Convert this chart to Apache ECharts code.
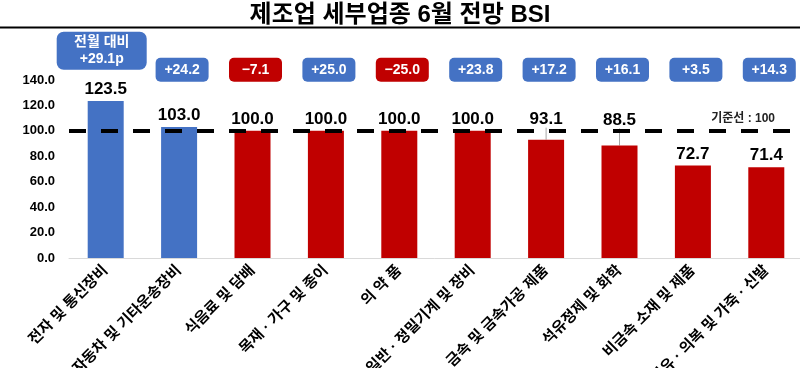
<!DOCTYPE html>
<html><head><meta charset="utf-8">
<script src="https://cdn.jsdelivr.net/npm/echarts@6/dist/echarts.min.js"></script>
<style>html,body{margin:0;padding:0;background:#fff}#c{width:800px;height:368px}</style>
</head><body><div id="c"></div>
<script>
const categories = ['전자 및 통신장비','자동차 및 기타운송장비','식음료 및 담배','목재 · 가구 및 종이','의 약 품','일반 · 정밀기계 및 장비','금속 및 금속가공 제품','석유정제 및 화학','비금속 소재 및 제품','섬유 · 의복 및 가죽 · 신발'];
const bsiValues = [123.5, 103.0, 100.0, 100.0, 100.0, 100.0, 93.1, 88.5, 72.7, 71.4];
const monthChange = [29.1, 24.2, -7.1, 25.0, -25.0, 23.8, 17.2, 16.1, 3.5, 14.3];
const barColors = ['#4472C4','#4472C4','#C00000','#C00000','#C00000','#C00000','#C00000','#C00000','#C00000','#C00000'];
const baseline = 100;
const yTicks = [0, 20, 40, 60, 80, 100, 120, 140];
const boxLevel = 148;
const firstBoxLevel = 163;

const FONT = '"Liberation Sans", "Noto Sans CJK KR", sans-serif';
const BLUE = '#4472C4', RED = '#C00000';

const boxData = monthChange.map((d, i) => {
  const color = d >= 0 ? BLUE : RED;
  const txt = (d >= 0 ? '+' : '\u2212') + Math.abs(d).toFixed(1);
  if (i === 0) {
    return {
      value: [categories[i], firstBoxLevel],
      label: { formatter: '전월 대비\n' + txt + 'p', backgroundColor: color, width: 90, height: 38, lineHeight: 17, borderRadius: 7, offset: [-4, 0] }
    };
  }
  return { value: [categories[i], boxLevel], label: { formatter: txt, backgroundColor: color, width: 53, height: 24, lineHeight: 24, borderRadius: 5, offset: [3, 0] } };
});

const chart = echarts.init(document.getElementById('c'), null, { renderer: 'canvas' });
chart.setOption({
  animation: false,
  backgroundColor: '#fff',
  title: {
    text: '제조업 세부업종 6월 전망 BSI',
    left: 'center', top: -2,
    textStyle: { fontFamily: FONT, fontSize: 24, fontWeight: 'bold', color: '#000' }
  },
  graphic: [{
    type: 'line', shape: { x1: 0, y1: 27.5, x2: 800, y2: 27.5 },
    style: { stroke: '#000', lineWidth: 2 }
  }],
  grid: { left: 69, width: 734, top: 80, bottom: 110, containLabel: false, outerBoundsMode: 'none' },
  xAxis: {
    type: 'category', data: categories,
    axisLine: { lineStyle: { color: '#d9d9d9', width: 1 } },
    axisTick: { show: false },
    axisLabel: { rotate: 45, margin: 10, interval: 0, color: '#000', fontFamily: FONT, fontWeight: 'bold', fontSize: 15 }
  },
  yAxis: {
    type: 'value', min: yTicks[0], max: yTicks[yTicks.length - 1], interval: 20,
    splitLine: { show: false }, axisLine: { show: false }, axisTick: { show: false },
    axisLabel: { margin: 14, color: '#000', fontFamily: FONT, fontWeight: 'bold', fontSize: 13, formatter: v => v.toFixed(1) }
  },
  series: [{
    type: 'bar', barWidth: 36,
    data: bsiValues.map((v, i) => ({
      value: v, itemStyle: { color: barColors[i] },
      labelLine: { show: i === 6 || i === 7, lineStyle: { color: '#a6a6a6', width: 1 } }
    })),
    label: { show: true, position: 'top', distance: 3, color: '#000', fontFamily: FONT, fontWeight: 'bold', fontSize: 17, formatter: p => p.value.toFixed(1) },
    labelLayout: function (p) {
      if (p.dataIndex === 6) return { dy: -9 };
      if (p.dataIndex === 7) return { dy: -14 };
      return {};
    },
    markLine: {
      silent: true, symbol: 'none',
      data: [{ yAxis: baseline }],
      lineStyle: { color: '#000', width: 4, type: [17, 15] },
      label: { show: true, position: 'insideEndTop', formatter: '기준선 : 100', color: '#222', fontFamily: FONT, fontWeight: 'bold', fontSize: 12, distance: 6, padding: [0, 22, 0, 0] }
    },
    z: 2
  }, {
    type: 'scatter', clip: false, symbol: 'circle', symbolSize: 1,
    itemStyle: { color: 'rgba(0,0,0,0)', opacity: 1 },
    data: boxData,
    label: { show: true, position: 'inside', align: 'center', verticalAlign: 'middle', color: '#fff', fontFamily: FONT, fontWeight: 'bold', fontSize: 14 },
    z: 3
  }]
});
</script></body></html>
